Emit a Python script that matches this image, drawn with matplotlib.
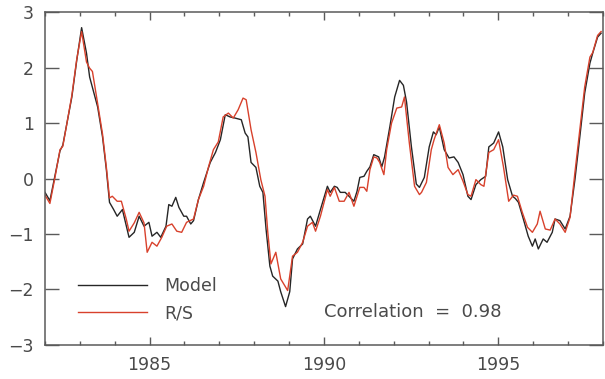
import matplotlib
matplotlib.use("Agg")
import matplotlib.pyplot as plt
from matplotlib.ticker import MultipleLocator

# Model output (decimal year, standardized anomaly)
model_t = [1982.00, 1982.14, 1982.28, 1982.43, 1982.51, 1982.63, 1982.77, 1982.91,
           1983.05, 1983.19, 1983.28, 1983.51, 1983.65, 1983.76, 1983.85, 1983.96,
           1984.07, 1984.22, 1984.41, 1984.56, 1984.70, 1984.84, 1984.98, 1985.07,
           1985.21, 1985.32, 1985.47, 1985.55, 1985.64, 1985.75, 1985.84, 1985.98,
           1986.06, 1986.18, 1986.26, 1986.40, 1986.55, 1986.74, 1986.89, 1987.03,
           1987.17, 1987.31, 1987.45, 1987.63, 1987.74, 1987.82, 1987.91, 1988.05,
           1988.16, 1988.25, 1988.34, 1988.45, 1988.53, 1988.68, 1988.76, 1988.90,
           1989.02, 1989.10, 1989.24, 1989.39, 1989.53, 1989.61, 1989.76, 1989.90,
           1990.10, 1990.18, 1990.30, 1990.38, 1990.47, 1990.61, 1990.72, 1990.86,
           1990.95, 1991.03, 1991.15, 1991.23, 1991.32, 1991.43, 1991.57, 1991.66,
           1991.74, 1991.89, 1992.03, 1992.17, 1992.28, 1992.37, 1992.51, 1992.65,
           1992.74, 1992.88, 1993.02, 1993.14, 1993.22, 1993.31, 1993.45, 1993.59,
           1993.73, 1993.85, 1993.99, 1994.13, 1994.22, 1994.36, 1994.50, 1994.64,
           1994.73, 1994.87, 1995.01, 1995.13, 1995.27, 1995.41, 1995.49, 1995.58,
           1995.72, 1995.86, 1995.98, 1996.06, 1996.15, 1996.29, 1996.40, 1996.55,
           1996.63, 1996.77, 1996.92, 1997.06, 1997.20, 1997.34, 1997.48, 1997.63,
           1997.71, 1997.85, 1997.95]
model_v = [-0.25, -0.40, 0.03, 0.50, 0.60, 1.00, 1.47, 2.13,
           2.72, 2.26, 1.83, 1.29, 0.75, 0.16, -0.43, -0.55,
           -0.68, -0.56, -1.06, -0.97, -0.68, -0.86, -0.79, -1.04,
           -0.97, -1.06, -0.86, -0.47, -0.50, -0.34, -0.52, -0.68,
           -0.68, -0.82, -0.76, -0.38, -0.07, 0.29, 0.47, 0.70,
           1.15, 1.11, 1.09, 1.06, 0.82, 0.75, 0.29, 0.20,
           -0.14, -0.25, -0.91, -1.58, -1.76, -1.85, -2.04, -2.31,
           -2.04, -1.45, -1.27, -1.18, -0.73, -0.68, -0.86, -0.56,
           -0.14, -0.25, -0.14, -0.16, -0.25, -0.25, -0.32, -0.41,
           -0.23, 0.02, 0.04, 0.13, 0.21, 0.43, 0.39, 0.21,
           0.39, 0.93, 1.47, 1.77, 1.68, 1.38, 0.57, -0.10,
           -0.16, 0.02, 0.57, 0.84, 0.79, 0.93, 0.52, 0.37,
           0.39, 0.29, 0.07, -0.32, -0.38, -0.11, -0.02, 0.04,
           0.57, 0.64, 0.84, 0.57, -0.02, -0.32, -0.36, -0.43,
           -0.73, -1.04, -1.22, -1.09, -1.27, -1.09, -1.15, -0.97,
           -0.73, -0.76, -0.91, -0.68, -0.02, 0.75, 1.54, 2.08,
           2.26, 2.55, 2.62]

# R/S estimate (decimal year, standardized anomaly)
rs_t = [1982.00, 1982.14, 1982.28, 1982.43, 1982.51, 1982.63, 1982.77, 1982.91,
        1983.05, 1983.19, 1983.28, 1983.36, 1983.51, 1983.65, 1983.76, 1983.85,
        1983.93, 1984.07, 1984.19, 1984.33, 1984.41, 1984.56, 1984.70, 1984.84,
        1984.93, 1985.07, 1985.21, 1985.35, 1985.49, 1985.64, 1985.78, 1985.92,
        1986.06, 1986.26, 1986.40, 1986.55, 1986.69, 1986.83, 1986.97, 1987.11,
        1987.26, 1987.40, 1987.54, 1987.68, 1987.77, 1987.91, 1988.05, 1988.19,
        1988.31, 1988.39, 1988.48, 1988.62, 1988.76, 1988.96, 1989.10, 1989.24,
        1989.39, 1989.53, 1989.67, 1989.76, 1989.90, 1990.10, 1990.18, 1990.30,
        1990.44, 1990.58, 1990.72, 1990.86, 1990.95, 1991.03, 1991.15, 1991.23,
        1991.32, 1991.43, 1991.52, 1991.60, 1991.72, 1991.80, 1991.94, 1992.09,
        1992.23, 1992.31, 1992.45, 1992.60, 1992.74, 1992.80, 1992.94, 1993.08,
        1993.16, 1993.31, 1993.45, 1993.56, 1993.70, 1993.85, 1993.99, 1994.13,
        1994.22, 1994.36, 1994.50, 1994.59, 1994.73, 1994.87, 1995.01, 1995.15,
        1995.30, 1995.44, 1995.55, 1995.69, 1995.84, 1995.98, 1996.12, 1996.20,
        1996.35, 1996.49, 1996.63, 1996.77, 1996.92, 1997.06, 1997.20, 1997.34,
        1997.48, 1997.63, 1997.71, 1997.85, 1997.95]
rs_v = [-0.30, -0.45, 0.00, 0.52, 0.58, 1.00, 1.50, 2.15,
        2.65, 2.10, 1.99, 1.93, 1.35, 0.80, 0.20, -0.35,
        -0.32, -0.41, -0.41, -0.73, -0.95, -0.80, -0.61, -0.80,
        -1.33, -1.15, -1.22, -1.06, -0.86, -0.82, -0.95, -0.97,
        -0.79, -0.73, -0.38, -0.14, 0.21, 0.52, 0.66, 1.11,
        1.18, 1.09, 1.24, 1.45, 1.42, 0.88, 0.47, -0.02,
        -0.32, -0.97, -1.54, -1.33, -1.81, -2.02, -1.40, -1.33,
        -1.15, -0.86, -0.79, -0.95, -0.68, -0.20, -0.32, -0.16,
        -0.41, -0.41, -0.25, -0.50, -0.32, -0.16, -0.16, -0.23,
        0.16, 0.39, 0.37, 0.29, 0.07, 0.52, 1.00, 1.27,
        1.29, 1.47, 0.64, -0.14, -0.29, -0.25, -0.07, 0.52,
        0.70, 0.97, 0.64, 0.20, 0.07, 0.16, -0.05, -0.29,
        -0.32, -0.02, -0.11, -0.14, 0.47, 0.52, 0.70, 0.21,
        -0.41, -0.30, -0.32, -0.61, -0.88, -0.97, -0.82, -0.59,
        -0.91, -0.93, -0.73, -0.82, -0.97, -0.70, 0.11, 0.88,
        1.65, 2.19, 2.27, 2.58, 2.65]

correlation = 0.98
x_ticks = [1985, 1990, 1995]
y_ticks = [-3, -2, -1, 0, 1, 2, 3]

axis_gray = "#5a5a5a"
text_gray = "#4a4a4a"
model_color = "#262626"
rs_color = "#d8412c"

plt.rcParams["font.family"] = ["DejaVu Sans"]

fig = plt.figure(figsize=(6.05, 3.79), dpi=100)
ax = fig.add_axes([0.0744, 0.090, 0.922, 0.878])

ax.plot(model_t, model_v, color=model_color, lw=1.0, label="Model")
ax.plot(rs_t, rs_v, color=rs_color, lw=1.0, label="R/S")

ax.set_xlim(1982, 1998)
ax.set_ylim(-3, 3)
ax.set_xticks(x_ticks)
ax.set_yticks(y_ticks)
ax.xaxis.set_minor_locator(MultipleLocator(1))

for s in ax.spines.values():
    s.set_color(axis_gray)
    s.set_linewidth(1.1)

ax.tick_params(axis="both", which="both", direction="in", colors=axis_gray,
               labelcolor=text_gray, labelsize=12.5, top=True, right=True)
ax.tick_params(axis="y", which="major", length=10, width=1.0, pad=8)
ax.tick_params(axis="x", which="major", length=6, width=1.0, pad=8)
ax.tick_params(axis="x", which="minor", length=3, width=1.0)

leg = ax.legend(loc="upper left", bbox_to_anchor=(0.059, 0.205), frameon=False,
                handlelength=4.0, handletextpad=1.0, labelspacing=0.55,
                borderpad=0, borderaxespad=0, fontsize=12.5)
for t in leg.get_texts():
    t.set_color(text_gray)

ax.text(0.5, 0.10, f"Correlation  =  {correlation:.2f}", transform=ax.transAxes,
        ha="left", va="center", fontsize=13, color=text_gray)

fig.savefig("out.png", dpi=100)
